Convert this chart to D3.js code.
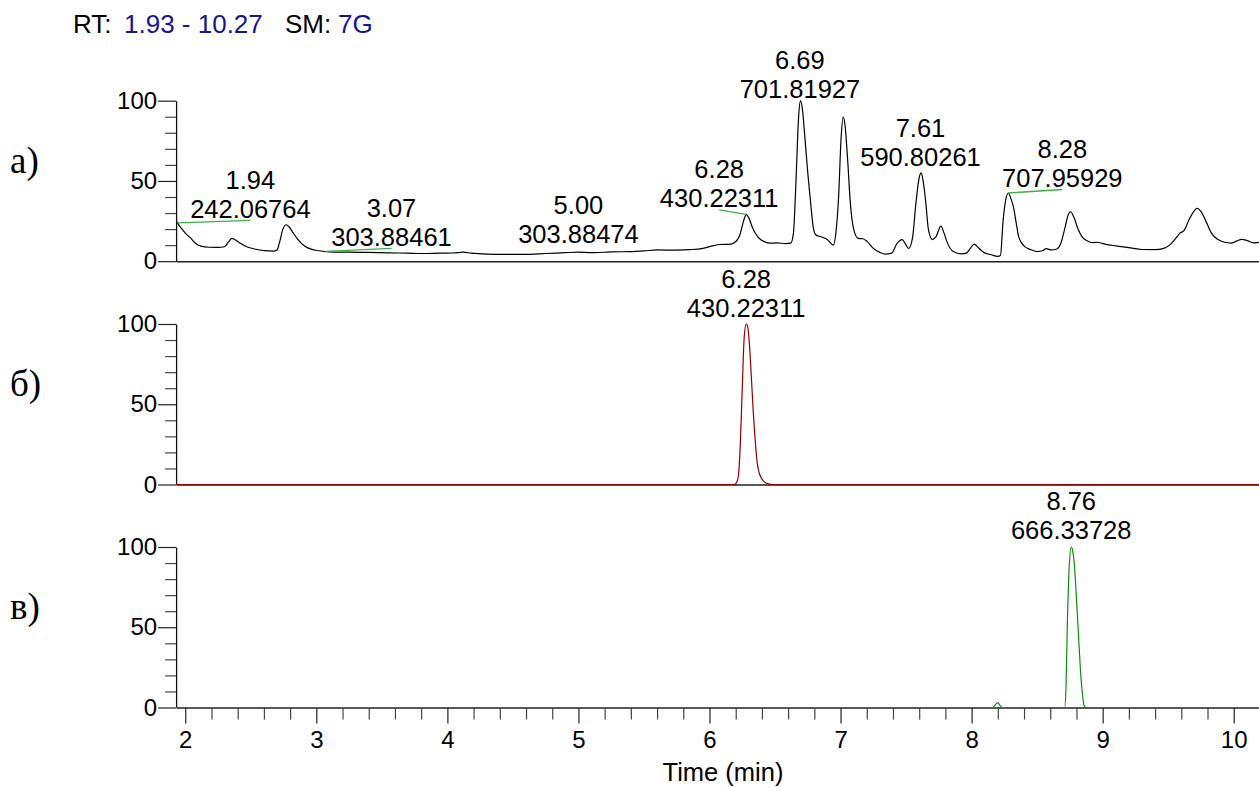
<!DOCTYPE html>
<html>
<head>
<meta charset="utf-8">
<script src="https://cdn.jsdelivr.net/npm/d3@7"></script>
<style>
  html, body { margin: 0; padding: 0; background: #fff; }
  svg { display: block; }
  text { font-family: "Liberation Sans", Arial, sans-serif; }
</style>
</head>
<body>
<svg id="chart" width="1259" height="787"></svg>
<script>
// ---------------- DATA ----------------
const rtRange = [1.93, 10.27];
const smoothing = "7G";
const panelNames = ["а)", "б)", "в)"];
const xMajorTicks = [2, 3, 4, 5, 6, 7, 8, 9, 10];
const yMajorTicks = [0, 50, 100];

// Panel а: total ion chromatogram (time min, relative abundance %)
const traceA = [
  [1.934, 24.5], [1.97, 20.5], [2.0, 17.5], [2.04, 14.5], [2.08, 11.0], [2.12, 9.4], [2.18, 8.7],
  [2.25, 8.6], [2.30, 9.0], [2.33, 12.0], [2.355, 14.2], [2.38, 13.4], [2.42, 11.2], [2.47, 9.0],
  [2.53, 7.6], [2.60, 6.6], [2.67, 6.3], [2.70, 7.0], [2.72, 12.0], [2.745, 20.0], [2.77, 22.7],
  [2.79, 21.6], [2.82, 18.0], [2.86, 13.5], [2.91, 9.5], [2.96, 7.5], [3.02, 6.5], [3.10, 5.8],
  [3.25, 5.6], [3.40, 5.5], [3.55, 5.2], [3.70, 5.0], [3.80, 4.8], [3.95, 5.0], [4.05, 5.1],
  [4.12, 5.6], [4.18, 5.0], [4.30, 4.4], [4.45, 4.2], [4.60, 4.3], [4.75, 4.8], [4.90, 5.3],
  [5.00, 5.6], [5.10, 5.3], [5.25, 5.8], [5.40, 6.0], [5.50, 6.4], [5.60, 7.0], [5.75, 6.9],
  [5.85, 7.2], [5.95, 8.0], [6.02, 9.5], [6.08, 10.4], [6.15, 10.5], [6.19, 11.5], [6.23, 16.0],
  [6.26, 25.0], [6.28, 29.2], [6.30, 27.0], [6.33, 20.5], [6.37, 15.0], [6.41, 12.5], [6.46, 11.2],
  [6.52, 11.4], [6.58, 11.0], [6.62, 11.3], [6.64, 17.0], [6.66, 50.0], [6.68, 90.0], [6.695, 100.0],
  [6.71, 94.0], [6.73, 75.0], [6.75, 55.0], [6.77, 38.0], [6.79, 22.0], [6.81, 16.5], [6.85, 15.2],
  [6.90, 13.4], [6.945, 10.0], [6.965, 18.0], [6.985, 40.0], [7.005, 78.0], [7.02, 90.0], [7.035, 84.0],
  [7.055, 62.0], [7.075, 36.0], [7.10, 20.0], [7.135, 14.2], [7.17, 14.0], [7.20, 12.5], [7.25, 8.0],
  [7.30, 5.5], [7.34, 4.4], [7.39, 5.0], [7.43, 11.0], [7.47, 13.5], [7.50, 10.0], [7.52, 7.9],
  [7.55, 15.0], [7.575, 36.0], [7.60, 52.0], [7.615, 55.0], [7.63, 50.0], [7.65, 37.0], [7.67, 20.0],
  [7.70, 13.5], [7.73, 15.5], [7.765, 21.8], [7.79, 17.5], [7.81, 12.5], [7.86, 6.0], [7.92, 4.6],
  [7.96, 5.0], [7.99, 8.0], [8.02, 10.6], [8.05, 8.5], [8.09, 5.6], [8.15, 4.0], [8.20, 3.0],
  [8.22, 3.5], [8.24, 25.0], [8.26, 38.0], [8.28, 42.5], [8.30, 39.0], [8.32, 33.5], [8.34, 24.0],
  [8.36, 15.0], [8.40, 9.5], [8.45, 7.2], [8.50, 6.0], [8.54, 6.5], [8.57, 7.8], [8.61, 7.0],
  [8.65, 7.6], [8.68, 11.0], [8.71, 20.0], [8.74, 29.5], [8.755, 30.8], [8.78, 27.5], [8.81, 20.5],
  [8.84, 15.5], [8.88, 12.8], [8.93, 11.6], [8.96, 11.8], [9.00, 11.0], [9.10, 9.6], [9.20, 8.5],
  [9.30, 7.3], [9.40, 7.2], [9.46, 7.8], [9.51, 10.0], [9.56, 14.5], [9.59, 17.5], [9.62, 19.0],
  [9.66, 26.0], [9.70, 31.5], [9.72, 33.0], [9.75, 31.0], [9.79, 24.5], [9.83, 17.5], [9.88, 13.5],
  [9.93, 11.8], [9.98, 11.3], [10.02, 12.5], [10.06, 13.6], [10.10, 13.0], [10.15, 11.4], [10.20, 11.8],
  [10.27, 11.4]
];

// Panel б: extracted ion chromatogram m/z 430.22311
const traceB = [
  [1.93, 0], [6.19, 0], [6.205, 1.0], [6.22, 5], [6.235, 25], [6.25, 60], [6.265, 92], [6.28, 100],
  [6.29, 99], [6.305, 87], [6.32, 66], [6.335, 44], [6.35, 26], [6.365, 13], [6.38, 7], [6.40, 3.5],
  [6.42, 1.5], [6.45, 0.4], [6.48, 0], [10.27, 0]
];

// Panel в: extracted ion chromatogram m/z 666.33728
const traceC = [
  [1.93, 0], [8.16, 0], [8.19, 2.5], [8.20, 3.0], [8.215, 1.5], [8.235, 0], [8.71, 0], [8.72, 12],
  [8.73, 50], [8.745, 88], [8.76, 100], [8.77, 98], [8.785, 88], [8.80, 68], [8.815, 46], [8.83, 24],
  [8.845, 9], [8.86, 1], [8.875, 0], [10.27, 0]
];

// Peak annotations: [retention time, m/z label]
const peaksA = [[1.94, "242.06764"], [3.07, "303.88461"], [5.00, "303.88474"], [6.28, "430.22311"],
                [6.69, "701.81927"], [7.61, "590.80261"], [8.28, "707.95929"]];
const peaksB = [[6.28, "430.22311"]];
const peaksC = [[8.76, "666.33728"]];

// ---------------- LAYOUT (positions / styles) ----------------
// label shift in px [dx, dy of m/z baseline relative to apex]; leader drawn when dx != 0
const labelShiftA = { "1.94": [73, -5], "3.07": [66, -5.5], "5.00": [0, -9], "6.28": [-27, -7],
                      "6.69": [0, -8], "7.61": [0, -8.5], "8.28": [54, -6] };
const labelShiftB = { "6.28": [0, -7] };
const labelShiftC = { "8.76": [0, -8.5] };

const W = 1259, H = 787;
const svg = d3.select("#chart");
svg.append("rect").attr("width", W).attr("height", H).attr("fill", "#fff");

const x = d3.scaleLinear().domain(rtRange).range([176.1, 1269.1]);
const panelTop = [100.7, 324.0, 547.0];
const panelH = 160.5;

const panels = [
  { data: traceA, color: "#000", peaks: peaksA, shift: labelShiftA },
  { data: traceB, color: "#8f0000", peaks: peaksB, shift: labelShiftB },
  { data: traceC, color: "#118a11", peaks: peaksC, shift: labelShiftC }
];

function interp(data, t) {
  for (let i = 1; i < data.length; i++) {
    if (data[i][0] >= t) {
      const [t0, v0] = data[i - 1], [t1, v1] = data[i];
      return v0 + (v1 - v0) * (t - t0) / (t1 - t0);
    }
  }
  return data[data.length - 1][1];
}

const fontTick = 24, fontAnn = 25.5;

panels.forEach((p, i) => {
  const y = d3.scaleLinear().domain([0, 100]).range([panelTop[i] + panelH, panelTop[i]]);
  const g = svg.append("g");

  // baseline (x domain line)
  const base = g.append("g").attr("transform", `translate(0,${y(0)})`);
  if (i === 2) {
    const minor = d3.range(2.2, 10.27, 0.2).filter(v => Math.abs(v - Math.round(v)) > 1e-6);
    base.call(d3.axisBottom(x).tickValues(minor).tickSize(12).tickSizeOuter(0).tickFormat(""));
    base.selectAll(".tick line").attr("stroke", "#444").attr("stroke-width", 1.2);
    const major = g.append("g").attr("transform", `translate(0,${y(0)})`)
      .call(d3.axisBottom(x).tickValues(xMajorTicks).tickSize(16).tickSizeOuter(0).tickPadding(7).tickFormat(d3.format("d")));
    major.select(".domain").remove();
    major.selectAll(".tick line").attr("stroke", "#222").attr("stroke-width", 1.2);
    major.selectAll("text").attr("font-size", fontTick).attr("fill", "#000")
      .style("font-family", '"Liberation Sans", Arial, sans-serif');
  } else {
    base.call(d3.axisBottom(x).tickValues([]).tickSizeOuter(0));
  }
  base.select(".domain").attr("stroke", "#222").attr("stroke-width", 1.5);

  // y axis
  const yMinor = d3.range(10, 100, 10).filter(v => v !== 50);
  const ym = g.append("g").attr("transform", `translate(${x(rtRange[0])},0)`)
    .call(d3.axisLeft(y).tickValues(yMinor).tickSize(11).tickSizeOuter(0).tickFormat(""));
  ym.select(".domain").attr("stroke", "#111").attr("stroke-width", 1.3);
  ym.selectAll(".tick line").attr("stroke", "#444").attr("stroke-width", 1.2);
  const yM = g.append("g").attr("transform", `translate(${x(rtRange[0])},0)`)
    .call(d3.axisLeft(y).tickValues(yMajorTicks).tickSize(18).tickSizeOuter(0).tickPadding(1));
  yM.select(".domain").remove();
  yM.selectAll(".tick line").attr("stroke", "#222").attr("stroke-width", 1.2);
  yM.selectAll("text").attr("font-size", fontTick).attr("fill", "#000")
    .style("font-family", '"Liberation Sans", Arial, sans-serif');

  // trace
  const line = d3.line().x(d => x(d[0])).y(d => y(d[1])).curve(d3.curveMonotoneX);
  g.append("path").datum(p.data).attr("d", line).attr("fill", "none")
    .attr("stroke", p.color).attr("stroke-width", 1.2).attr("stroke-linejoin", "round");

  // annotations
  p.peaks.forEach(([rt, mz]) => {
    const key = rt.toFixed(2);
    const [dx, dy] = p.shift[key];
    const ax = x(rt), ay = y(interp(p.data, rt));
    const lx = ax + dx, lb = ay + dy;
    if (dx !== 0) {
      g.append("line").attr("x1", ax).attr("y1", ay).attr("x2", lx).attr("y2", lb + 2.5)
        .attr("stroke", "#3cb043").attr("stroke-width", 1.3);
    }
    g.append("text").attr("x", lx).attr("y", lb).attr("text-anchor", "middle")
      .attr("font-size", fontAnn).attr("fill", "#000").text(mz);
    g.append("text").attr("x", lx).attr("y", lb - 29).attr("text-anchor", "middle")
      .attr("font-size", fontAnn).attr("fill", "#000").text(key);
  });

  // panel label
  svg.append("text").attr("x", 10).attr("y", panelTop[i] + panelH / 2 - 8)
    .attr("font-size", 37).attr("fill", "#000")
    .style("font-family", '"Liberation Serif", "Times New Roman", serif')
    .text(panelNames[i]);
});

// header
const hdr = svg.append("g").attr("font-size", 26);
const hdrParts = [
  ["RT:", "#000", 73],
  [`${rtRange[0].toFixed(2)} - ${rtRange[1].toFixed(2)}`, "#161690", 124],
  ["SM:", "#000", 285],
  [smoothing, "#161690", 338]
];
hdrParts.forEach(([t, c, px]) => {
  hdr.append("text").attr("x", px).attr("y", 33).attr("fill", c).text(t);
});

// x-axis title
svg.append("text").attr("x", 723).attr("y", 781).attr("text-anchor", "middle")
  .attr("font-size", 25.5).attr("fill", "#000").text("Time (min)");
</script>
</body>
</html>
